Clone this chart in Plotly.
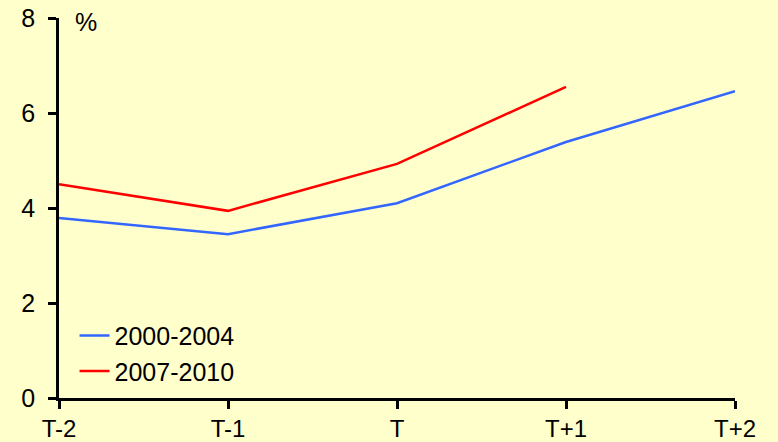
import plotly.graph_objects as go

categories = ["T-2", "T-1", "T", "T+1", "T+2"]
series_2000_2004 = [3.79, 3.45, 4.10, 5.39, 6.46]
series_2007_2010 = [4.50, 3.94, 4.93, 6.55]
y_ticks = [0, 2, 4, 6, 8]

BG = "#FFFFCC"
FONT = dict(family="Liberation Sans, Arial, sans-serif", size=25, color="black")
XFONT = dict(family="Liberation Sans, Arial, sans-serif", size=24, color="black")

fig = go.Figure()
fig.add_trace(go.Scatter(x=categories, y=series_2000_2004, mode="lines",
                         name="2000-2004", line=dict(color="#3366FF", width=2.5)))
fig.add_trace(go.Scatter(x=categories[:len(series_2007_2010)], y=series_2007_2010, mode="lines",
                         name="2007-2010", line=dict(color="#FF0000", width=2.5)))

fig.update_layout(
    width=778, height=442,
    paper_bgcolor=BG, plot_bgcolor=BG,
    font=FONT,
    margin=dict(l=59, r=43, t=18, b=44),
    showlegend=True,
    legend=dict(x=0.023, y=0.2245, xanchor="left", yanchor="top",
                bgcolor="rgba(0,0,0,0)", font=FONT, tracegroupgap=0),
    xaxis=dict(type="category", categoryorder="array", categoryarray=categories,
               range=[0, 4], showgrid=False, zeroline=False, automargin=False,
               showline=True, linecolor="black", linewidth=2.5,
               ticks="outside", ticklen=8, tickwidth=2.5, tickcolor="black",
               tickfont=XFONT, ticklabelstandoff=-1),
    yaxis=dict(range=[0, 8], tickvals=y_ticks, showgrid=False, zeroline=False,
               automargin=False,
               showline=True, linecolor="black", linewidth=2.5,
               ticks="outside", ticklen=8, tickwidth=2.5, tickcolor="black",
               tickfont=FONT, ticklabelstandoff=8),
    annotations=[dict(text="%", xref="paper", yref="paper", x=0.02, y=0.99,
                      xanchor="left", yanchor="middle", showarrow=False, font=FONT)],
)

fig.write_html("out.html", config={"displayModeBar": False},
               post_script="document.body.style.margin='0';document.body.style.background='#FFFFCC';")
